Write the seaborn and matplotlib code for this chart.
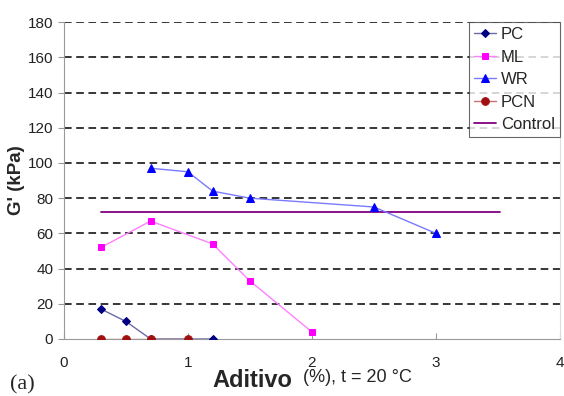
import numpy as np
import pandas as pd
import matplotlib
matplotlib.use("Agg")
import matplotlib.pyplot as plt
import seaborn as sns

# values
pc_x = [0.3, 0.5, 0.7, 1.2]
pc_y = [17, 10, 0, 0]
ml_x = [0.3, 0.7, 1.2, 1.5, 2.0]
ml_y = [52, 67, 54, 33, 4]
wr_x = [0.7, 1.0, 1.2, 1.5, 2.5, 3.0]
wr_y = [97, 95, 84, 80, 75, 60]
pcn_x = [0.3, 0.5, 0.7, 1.0]
pcn_y = [0, 0, 0, 0]
control_x = [0.3, 3.52]
control_y = [72, 72]

x_ticks = [0, 1, 2, 3, 4]
y_ticks = [0, 20, 40, 60, 80, 100, 120, 140, 160, 180]

sns.set_style("white")
plt.rcParams['font.family'] = ['Liberation Sans', 'DejaVu Sans']

fig = plt.figure(figsize=(5.64, 3.96), dpi=100)
ax = fig.add_axes([0.113, 0.144, 0.88, 0.80])

# gridlines first so the data sits on top
for yv in y_ticks[1:]:
    ax.axhline(yv, color='black', lw=1.1, ls=(0, (5, 3)), zorder=0)

series = [
    ("PC", pc_x, pc_y, "#000080", "#6a6aa8", "D", 4),
    ("ML", ml_x, ml_y, "#ff00ff", "#ff80ff", "s", 5),
    ("WR", wr_x, wr_y, "#0000ff", "#7a7aff", "^", 6),
    ("PCN", pcn_x, pcn_y, "#a01010", "#d07070", "o", 5.5),
]
for name, xs, ys, mcol, lcol, mk, ms in series:
    df = pd.DataFrame({"x": xs, "y": ys})
    sns.lineplot(data=df, x="x", y="y", ax=ax, color=lcol, lw=1,
                 marker=mk, markersize=ms, markerfacecolor=mcol,
                 markeredgecolor=mcol, label=name, zorder=3)

ctrl = pd.DataFrame({"x": control_x, "y": control_y})
sns.lineplot(data=ctrl, x="x", y="y", ax=ax, color="#800080", lw=1.3,
             label="Control", zorder=2)

ax.set_xlim(0, 4)
ax.set_ylim(0, 180)
ax.set_xticks(x_ticks)
ax.set_yticks(y_ticks)
ax.tick_params(axis='both', labelsize=11, colors='#222222')
ax.tick_params(axis='y', length=4, color='#999999', direction='out', left=True)
ax.tick_params(axis='x', length=4, color='#999999', direction='in', bottom=True, pad=12)
for sp in ['left', 'bottom']:
    ax.spines[sp].set_color('#999999')
ax.spines['top'].set_visible(False)
ax.spines['right'].set_color('#dddddd')

ax.set_xlabel("")
ax.set_ylabel("G' (kPa)", fontsize=13.5, fontweight='bold', labelpad=2)

leg = ax.legend(loc='upper right', bbox_to_anchor=(1.0, 1.0), fontsize=12,
                frameon=True, fancybox=False, edgecolor='#444444',
                handlelength=1.3, borderpad=0.3, labelspacing=0.45,
                handletextpad=0.3, borderaxespad=0)
leg.get_frame().set_linewidth(0.8)

fig.text(0.376, 0.040, "Aditivo", fontsize=17, fontweight='bold', va='center')
fig.text(0.537, 0.046, "(%), t = 20 °C", fontsize=13, va='center')
fig.text(0.018, 0.028, "(a)", fontsize=16, family='Liberation Serif', va='center')

fig.savefig("out.png", dpi=100)
